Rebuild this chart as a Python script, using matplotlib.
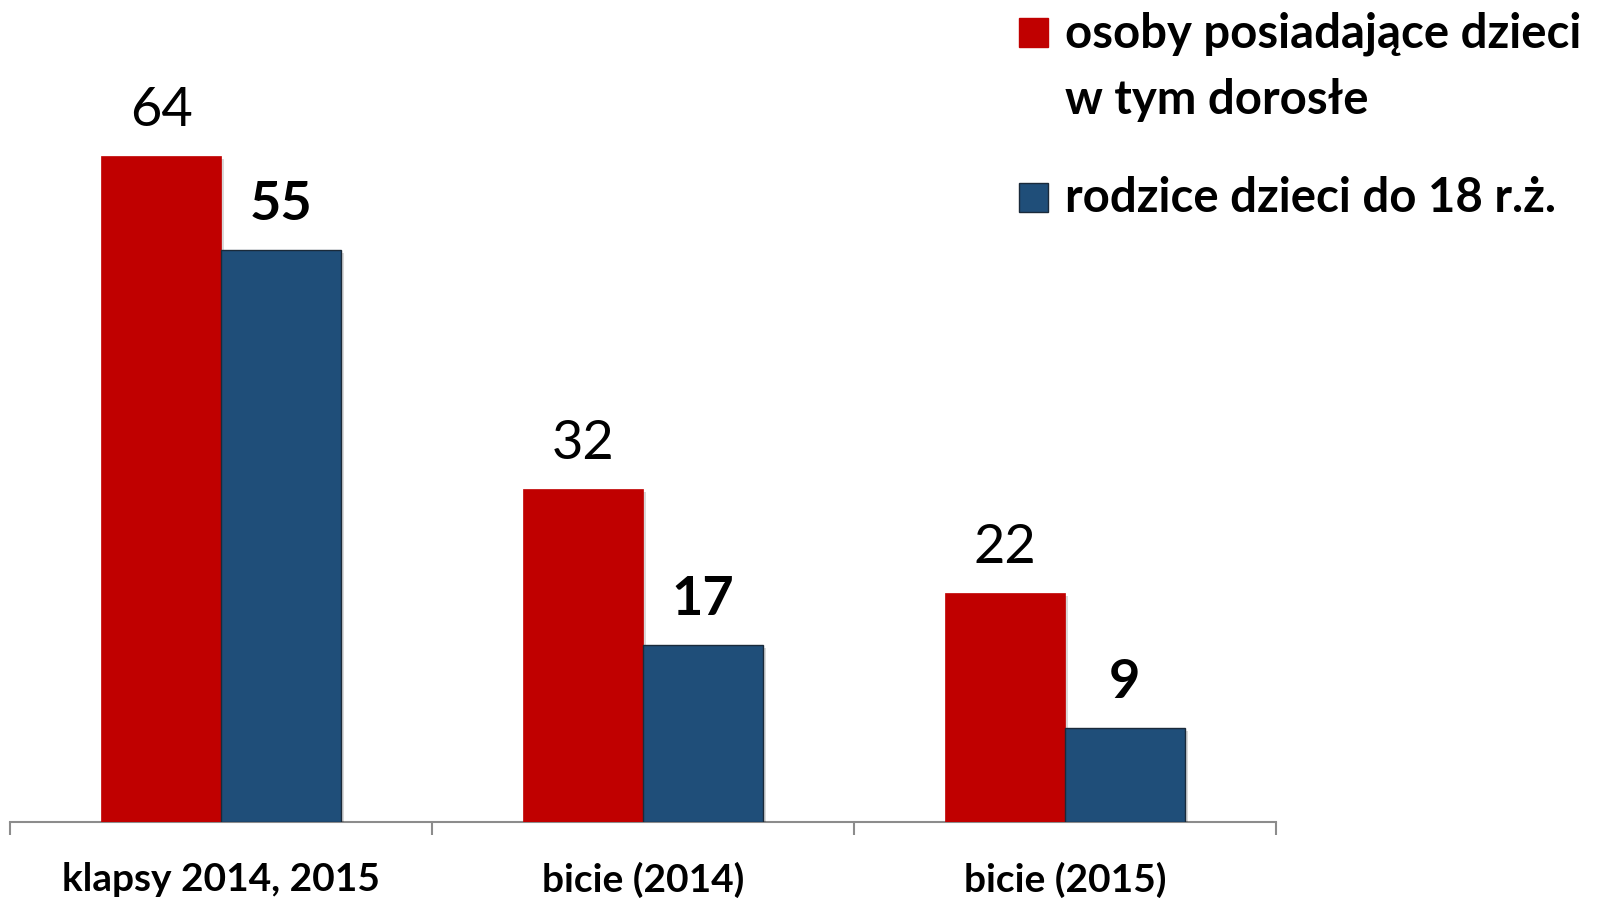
import matplotlib
matplotlib.use("Agg")
import matplotlib.pyplot as plt
from matplotlib.patches import Rectangle
import matplotlib.patheffects as pe

categories = ["klapsy 2014, 2015", "bicie (2014)", "bicie (2015)"]
series_names = ["osoby posiadające dzieci\nw tym dorosłe", "rodzice dzieci do 18 r.ż."]
adults = [64, 32, 22]
parents = [55, 17, 9]
colors = ["#C00000", "#1F4E79"]

plt.rcParams['font.family'] = ['Lato', 'DejaVu Sans']

fig = plt.figure(figsize=(16.18, 9.01), dpi=100)
ax = fig.add_axes([10/1618, 79/901, 1266/1618, 728/901])

w = 0.284
x = list(range(len(categories)))
shadow = [pe.SimplePatchShadow(offset=(2, -2), shadow_rgbFace='#000000', alpha=0.15), pe.Normal()]
b1 = ax.bar([i - w/2 for i in x], adults, width=w, color=colors[0], edgecolor=colors[0], linewidth=0.5, zorder=3)
b2 = ax.bar([i + w/2 for i in x], parents, width=w, color=colors[1], edgecolor='#1a2a3a', linewidth=1.0, zorder=3)
for b in list(b1) + list(b2):
    b.set_path_effects(shadow)

for i, v in enumerate(adults):
    ax.annotate(str(v), (i - w/2, v), xytext=(0, 33), textcoords='offset points',
                ha='center', va='center', fontsize=39, color='black')
for i, v in enumerate(parents):
    ax.annotate(str(v), (i + w/2, v), xytext=(0, 33), textcoords='offset points',
                ha='center', va='center', fontsize=39, fontweight='bold', color='black')

ax.set_xlim(-0.5, 2.5)
ax.set_ylim(0, 70)
for s in ['top', 'right', 'left']:
    ax.spines[s].set_visible(False)
ax.spines['bottom'].set_color('#8c8c8c')
ax.spines['bottom'].set_linewidth(1.5)
ax.set_yticks([])
ax.set_xticks(x)
ax.set_xticklabels(categories, fontsize=28, fontweight='bold')
ax.tick_params(axis='x', which='major', length=0, pad=29)
ax.set_xticks([-0.5, 0.5, 1.5, 2.5], minor=True)
ax.tick_params(axis='x', which='minor', length=9, width=1.5, color='#8c8c8c', direction='out')

# legend (drawn manually)
sq = 29
fig.patches.append(Rectangle((1019/1618, 1 - 47/901), sq/1618, sq/901, transform=fig.transFigure,
                             facecolor=colors[0], edgecolor=colors[0], figure=fig))
fig.patches.append(Rectangle((1019/1618, 1 - 212/901), sq/1618, sq/901, transform=fig.transFigure,
                             facecolor=colors[1], edgecolor='#1a2a3a', linewidth=1, figure=fig))
fig.text(1065/1618, 1 - 67/901, series_names[0], fontsize=34, fontweight='bold',
         ha='left', va='center', linespacing=1.62)
fig.text(1065/1618, 1 - 198/901, series_names[1], fontsize=34, fontweight='bold',
         ha='left', va='center')

fig.savefig("out.png", dpi=100)
